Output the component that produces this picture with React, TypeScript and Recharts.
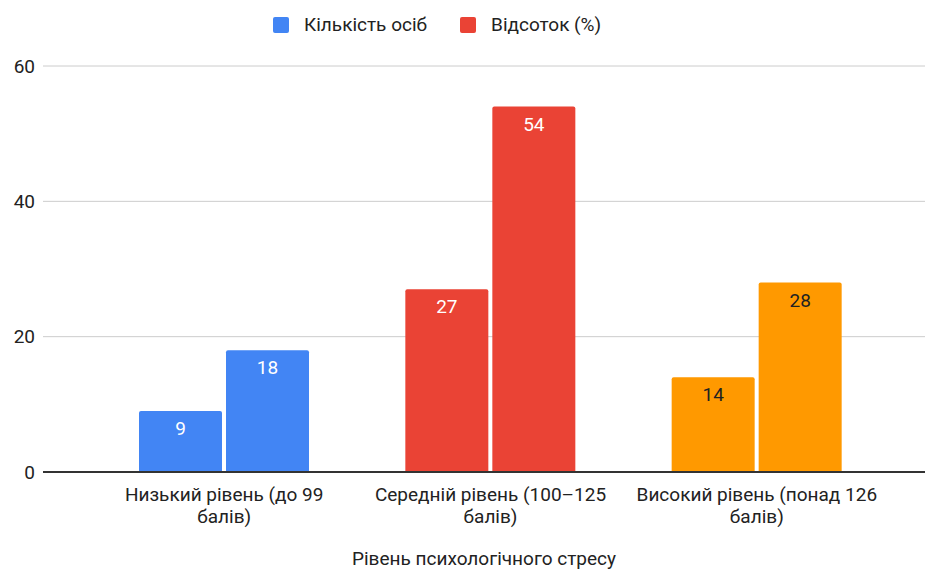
import React from 'react';
import { BarChart, Bar, XAxis, YAxis, CartesianGrid, Cell, LabelList } from 'recharts';

const categories = [
  'Низький рівень (до 99 балів)',
  'Середній рівень (100–125 балів)',
  'Високий рівень (понад 126 балів)',
];
const countValues = [9, 27, 14];
const percentValues = [18, 54, 28];
const yTicks = [0, 20, 40, 60];

const seriesNames = ['Кількість осіб', 'Відсоток (%)'];
const legendColors = ['#4285F4', '#EA4335'];
const categoryColors = ['#4285F4', '#EA4335', '#FF9900'];
const labelColors = ['#ffffff', '#ffffff', '#222222'];

const FONT = 'Roboto, "Noto Sans", sans-serif';

const data = categories.map((name, i) => ({
  name,
  count: countValues[i],
  percent: percentValues[i],
}));

// split the category name at the last space into two lines
const CategoryTick = (props: any) => {
  const { x, y, payload } = props;
  const text: string = payload.value;
  const cut = text.lastIndexOf(' ');
  const lines = [text.slice(0, cut), text.slice(cut + 1)];
  return (
    <g>
      {lines.map((line, i) => (
        <text
          key={i}
          x={x}
          y={y + 21 + i * 22}
          textAnchor="middle"
          fontSize={19}
          fill="#222"
          fontFamily={FONT}
        >
          {line}
        </text>
      ))}
    </g>
  );
};

const renderLabel = (props: any) => {
  const { x, y, width, value, index } = props;
  return (
    <text
      x={x + width / 2}
      y={y + 24}
      textAnchor="middle"
      fontSize={19}
      fill={labelColors[index]}
      fontFamily={FONT}
    >
      {value}
    </text>
  );
};

const App = () => {
  return (
    <div style={{ position: 'absolute', left: 0, top: 0, width: 925, height: 571, background: '#fff', fontFamily: FONT }}>
      <div
        style={{
          position: 'absolute',
          top: 13,
          left: 273,
          display: 'flex',
          alignItems: 'center',
          fontSize: 19,
          color: '#222',
        }}
      >
        {seriesNames.map((s, i) => (
          <div key={s} style={{ display: 'flex', alignItems: 'center', marginRight: 33 }}>
            <div style={{ width: 16, height: 16, borderRadius: 2, background: legendColors[i], marginRight: 15 }} />
            <span>{s}</span>
          </div>
        ))}
      </div>
      <BarChart
        width={925}
        height={571}
        data={data}
        margin={{ top: 66, right: 0, left: 0, bottom: 0 }}
        barGap={4}
        barCategoryGap={48}
      >
        <CartesianGrid stroke="#cccccc" vertical={false} />
        <XAxis
          dataKey="name"
          tick={<CategoryTick />}
          tickLine={false}
          axisLine={{ stroke: '#333', strokeWidth: 2 }}
          interval={0}
          height={99}
          padding={{ left: 48, right: 35 }}
          label={{
            value: 'Рівень психологічного стресу',
            position: 'insideBottom',
            offset: 6,
            fontSize: 19,
            fill: '#222',
            fontFamily: FONT,
          }}
        />
        <YAxis
          domain={[0, 60]}
          ticks={yTicks}
          width={43}
          tickLine={false}
          axisLine={false}
          tick={{ fontSize: 19, fill: '#222', fontFamily: FONT }}
        />
        <Bar dataKey="count" name={seriesNames[0]} radius={[2, 2, 0, 0]} isAnimationActive={false}>
          {data.map((_, i) => (
            <Cell key={`c-${i}`} fill={categoryColors[i]} />
          ))}
          <LabelList dataKey="count" content={renderLabel} />
        </Bar>
        <Bar dataKey="percent" name={seriesNames[1]} radius={[2, 2, 0, 0]} isAnimationActive={false}>
          {data.map((_, i) => (
            <Cell key={`p-${i}`} fill={categoryColors[i]} />
          ))}
          <LabelList dataKey="percent" content={renderLabel} />
        </Bar>
      </BarChart>
    </div>
  );
};

export default App;
